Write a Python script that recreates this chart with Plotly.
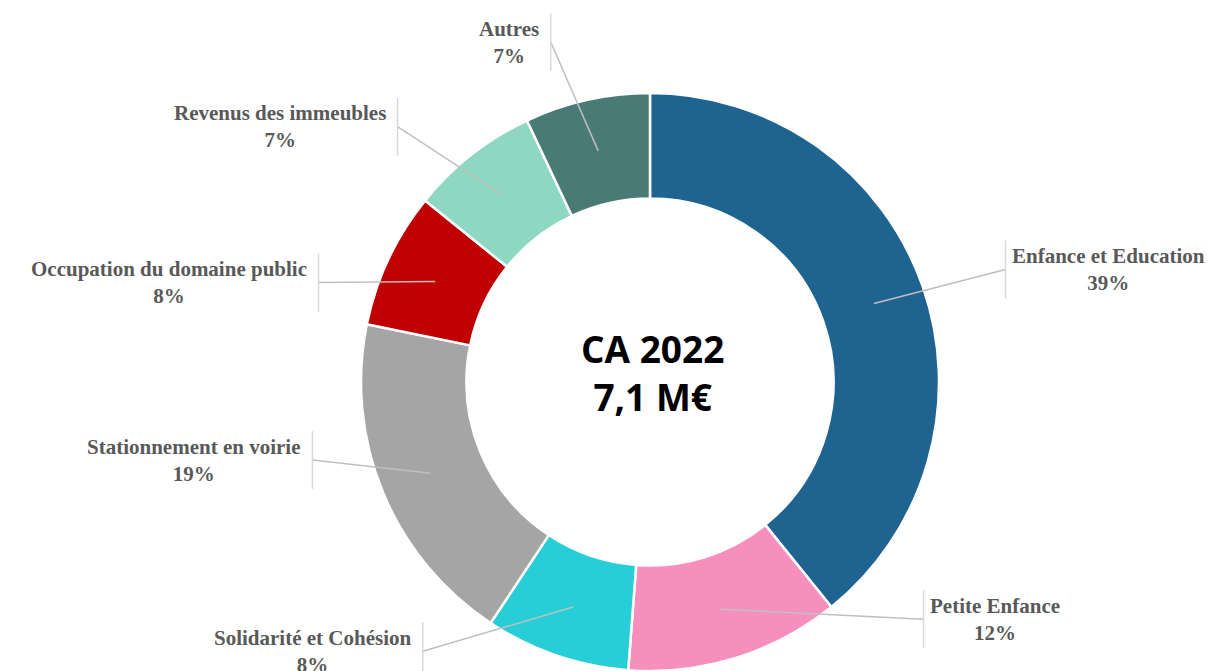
import math
import plotly.graph_objects as go

# ---- data ----
categories = ["Enfance et Education", "Petite Enfance", "Solidarité et Cohésion",
              "Stationnement en voirie", "Occupation du domaine public",
              "Revenus des immeubles", "Autres"]
shares = [39.2, 12.0, 8.1, 18.9, 7.6, 7.2, 7.0]
colors = ["#1F6391", "#F78FBE", "#27CED7", "#A5A5A5", "#C00000", "#8ED7C1", "#4A7A76"]
center_title = ["CA 2022", "7,1 M€"]

# ---- layout / style ----
W, H = 1211, 671
CX, CY = 650, 382.5          # pie centre in pixels
R = 289.5                     # outer radius in pixels
HOLE = 0.635
# label anchor (point where leader meets the vertical bar) relative to centre, in units of R
label_dx = [1.228, 0.945, -0.785, -1.166, -1.145, -0.872, -0.343]
label_dy = [-0.390, 0.818, 0.928, 0.268, -0.345, -0.884, -1.176]
LEADER_R = 0.82
BAR_HALF = 29

def px(x):
    return x / W

def py(y):
    return 1 - y / H

fig = go.Figure(go.Pie(
    labels=categories, values=shares, sort=False, direction="clockwise", rotation=0,
    hole=HOLE, marker=dict(colors=colors, line=dict(color="white", width=2.5)),
    textinfo="none", hoverinfo="label+percent", showlegend=False,
    domain=dict(x=[px(CX - R), px(CX + R)], y=[max(0, py(CY + R)), py(CY - R)]),
))

total = sum(shares)
shapes, annotations = [], []
cum = 0.0
for cat, v, dx, dy in zip(categories, shares, label_dx, label_dy):
    mid = (cum + v / 2) / total * 2 * math.pi
    cum += v
    sx = CX + LEADER_R * R * math.sin(mid)
    sy = CY - LEADER_R * R * math.cos(mid)
    ex = CX + dx * R
    ey = CY + dy * R
    shapes.append(dict(type="line", xref="paper", yref="paper",
                       x0=px(sx), y0=py(sy), x1=px(ex), y1=py(ey),
                       line=dict(color="#BFBFBF", width=1.5)))
    shapes.append(dict(type="line", xref="paper", yref="paper",
                       x0=px(ex), y0=py(ey - BAR_HALF), x1=px(ex), y1=py(ey + BAR_HALF),
                       line=dict(color="#D9D9D9", width=1.5)))
    right = dx > 0
    pct = round(v / total * 100)
    annotations.append(dict(
        xref="paper", yref="paper", x=px(ex + (4 if right else -10)), y=py(ey),
        xanchor="left" if right else "right", yanchor="middle", align="center",
        text=f"<b>{cat}</b><br><b>{pct}%</b>", showarrow=False,
        font=dict(family="Liberation Serif", size=21, color="#595959")))

annotations.append(dict(
    xref="paper", yref="paper", x=px(CX + 3), y=py(372), xanchor="center", yanchor="middle",
    text="<b>" + "<br>".join(center_title) + "</b>", showarrow=False, align="center",
    font=dict(family="Open Sans", size=37, color="#000000")))

fig.update_layout(width=W, height=H, margin=dict(l=0, r=0, t=0, b=0),
                  paper_bgcolor="white", plot_bgcolor="white",
                  shapes=shapes, annotations=annotations)
fig.write_html("out.html", config={"displayModeBar": False},
               post_script="document.body.style.margin='0';document.body.style.overflow='hidden';")
